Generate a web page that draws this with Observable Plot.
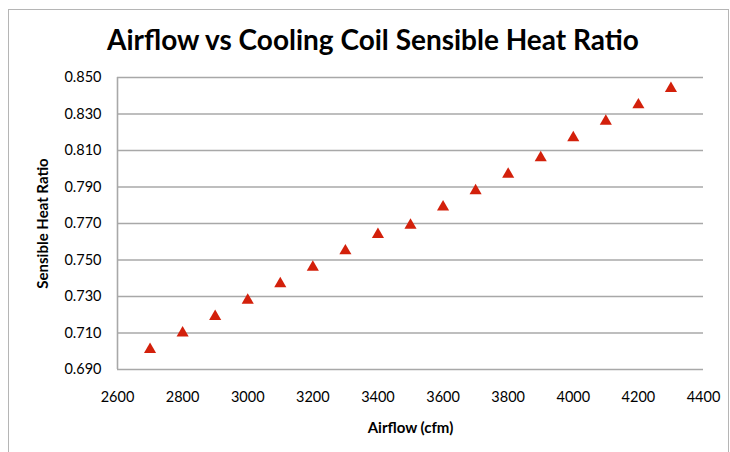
<!DOCTYPE html>
<html><head><meta charset="utf-8">
<script src="https://cdn.jsdelivr.net/npm/d3@7"></script>
<script src="https://cdn.jsdelivr.net/npm/@observablehq/plot@0.6"></script>
<style>
html,body{margin:0;padding:0;background:#fff;}
#wrap{position:relative;width:730px;height:452px;overflow:hidden;font-family:Lato,sans-serif;}
#frame{position:absolute;left:8px;top:9px;width:719px;height:500px;border:1px solid #b5b5b5;pointer-events:none;}
#title{position:absolute;left:0;top:21px;width:746px;text-align:center;font-weight:bold;font-size:28px;line-height:36px;color:#000;}
#chart{position:absolute;left:0;top:62px;}
</style></head>
<body>
<div id="wrap">
  <div id="title">Airflow vs Cooling Coil Sensible Heat Ratio</div>
  <div id="chart"></div>
  <div id="frame"></div>
</div>
<script>
const airflow = [2700, 2800, 2900, 3000, 3100, 3200, 3300, 3400, 3500, 3600, 3700, 3800, 3900, 4000, 4100, 4200, 4300];
const shr = [0.701, 0.710, 0.719, 0.728, 0.737, 0.746, 0.755, 0.764, 0.769, 0.779, 0.788, 0.797, 0.806, 0.817, 0.826, 0.835, 0.844];
const xTicks = [2600, 2800, 3000, 3200, 3400, 3600, 3800, 4000, 4200, 4400];
const yTicks = [0.690, 0.710, 0.730, 0.750, 0.770, 0.790, 0.810, 0.830, 0.850];
const xTitle = "Airflow (cfm)";
const yTitle = "Sensible Heat Ratio";

const data = airflow.map((a, i) => ({airflow: a, shr: shr[i]}));
const gridColor = "#a8a8a8";

const chart = Plot.plot({
  width: 730,
  height: 390,
  marginTop: 15,
  marginLeft: 117,
  marginRight: 27,
  marginBottom: 83,
  style: {fontFamily: "Lato, sans-serif", fontSize: "14.5px", color: "#000", background: "transparent", overflow: "visible"},
  x: {domain: [2600, 4400], label: null},
  y: {domain: [0.69, 0.85], label: null},
  marks: [
    Plot.gridY(yTicks, {stroke: gridColor, strokeOpacity: 1, strokeWidth: 1.6}),
    Plot.ruleX([2600], {stroke: gridColor, strokeWidth: 1.6}),
    Plot.axisX(xTicks, {tickSize: 0, tickPadding: 22, tickFormat: d => String(d), label: null, fontSize: 14.5}),
    Plot.axisY(yTicks, {tickSize: 0, tickPadding: 16, tickFormat: d3.format(".3f"), label: null, fontSize: 14.5}),
    Plot.dot(data, {x: "airflow", y: "shr", symbol: d3.symbolTriangle, r: 4.5, fill: "#d3200b", stroke: "none"}),
    Plot.text([xTitle], {text: d => d, frameAnchor: "bottom", textAnchor: "middle", lineAnchor: "middle", dy: 59, fontWeight: "bold", fontSize: 15}),
    Plot.text([yTitle], {text: d => d, frameAnchor: "left", textAnchor: "middle", lineAnchor: "middle", rotate: -90, dx: -74, fontWeight: "bold", fontSize: 15})
  ]
});
document.getElementById("chart").appendChild(chart);
</script>
</body></html>
